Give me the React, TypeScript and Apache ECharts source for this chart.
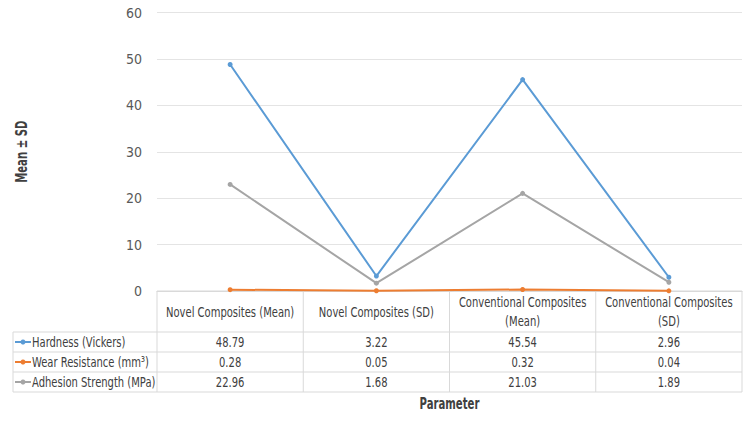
import React, { useEffect, useRef } from "react";
import * as echarts from "echarts";

const categories = [
  "Novel Composites (Mean)",
  "Novel Composites (SD)",
  "Conventional Composites (Mean)",
  "Conventional Composites (SD)",
];
const seriesNames = ["Hardness (Vickers)", "Wear Resistance (mm³)", "Adhesion Strength (MPa)"];
const hardness = [48.79, 3.22, 45.54, 2.96];
const wear = [0.28, 0.05, 0.32, 0.04];
const adhesion = [22.96, 1.68, 21.03, 1.89];
const yTicks = [0, 10, 20, 30, 40, 50, 60];
const xTitle = "Parameter";
const yTitle = "Mean ± SD";

const colors = ["#5B9BD5", "#ED7D31", "#A5A5A5"];
const FONT = "'DejaVu Sans Condensed', 'DejaVu Sans', sans-serif";
const TEXT = "#404040";
const LINE = "#d9d9d9";
const SX = 0.75;
const FS = 14.8;

export default function App() {
  const ref = useRef<HTMLDivElement>(null);
  useEffect(() => {
    if (!ref.current) return;
    const chart = echarts.init(ref.current, null, { renderer: "svg" });
    const allSeries = [hardness, wear, adhesion];
    chart.setOption({
      animation: false,
      textStyle: { fontFamily: FONT },
      grid: { left: 157, right: 8, top: 12.5, bottom: 131, containLabel: false },
      xAxis: {
        type: "category",
        data: categories,
        boundaryGap: true,
        axisLine: { show: true, lineStyle: { color: LINE, width: 1 } },
        axisTick: { show: false },
        axisLabel: { show: false },
      },
      yAxis: {
        type: "value",
        min: yTicks[0],
        max: yTicks[yTicks.length - 1],
        interval: 10,
        axisLine: { show: false },
        axisTick: { show: false },
        axisLabel: { margin: 15, fontSize: 14, color: "#595959", fontFamily: FONT },
        splitLine: { lineStyle: { color: "#e4e4e4", width: 1 } },
      },
      series: allSeries.map((d, i) => ({
        type: "line",
        name: seriesNames[i],
        data: d,
        symbol: "circle",
        symbolSize: 5,
        showSymbol: true,
        lineStyle: { color: colors[i], width: 2 },
        itemStyle: { color: colors[i] },
        z: 3,
      })),
    });

    // Data table built from the axis scale positions
    const centers = categories.map((_, i) => chart.convertToPixel({ xAxisIndex: 0 }, i) as number);
    const step = centers.length > 1 ? centers[1] - centers[0] : 145;
    const bounds = [centers[0] - step / 2, ...centers.map((c) => c + step / 2)];
    const yTop = chart.convertToPixel({ yAxisIndex: 0 }, 0) as number;
    const yMax = chart.convertToPixel({ yAxisIndex: 0 }, yTicks[yTicks.length - 1]) as number;
    const headerBottom = yTop + 41;
    const rowH = 20;
    const tableLeft = 13;
    const tableRight = bounds[bounds.length - 1];
    const tableBottom = headerBottom + rowH * seriesNames.length;

    const g: any[] = [];
    const ln = (x1: number, y1: number, x2: number, y2: number) =>
      g.push({ type: "line", shape: { x1, y1, x2, y2 }, style: { stroke: LINE, lineWidth: 1 }, silent: true });
    const txt = (text: string, x: number, y: number, align: string, extra: any = {}) =>
      g.push({
        type: "text",
        x,
        y,
        scaleX: SX,
        silent: true,
        z: 10,
        style: {
          text,
          fill: TEXT,
          fontSize: FS,
          fontFamily: FONT,
          align,
          verticalAlign: "middle",
          lineHeight: 19,
          ...extra,
        },
      });
    // horizontal lines
    ln(bounds[0], yTop, tableRight, yTop);
    for (let r = 0; r <= seriesNames.length; r++) {
      const y = headerBottom + r * rowH;
      ln(tableLeft, y, tableRight, y);
    }
    // vertical lines
    ln(tableLeft, headerBottom, tableLeft, tableBottom);
    bounds.forEach((x) => ln(x, yTop, x, tableBottom));

    // header row (category names)
    categories.forEach((c, i) => {
      const label = c.length > 24 ? c.replace(" (", "\n(") : c;
      txt(label, centers[i], (yTop + headerBottom) / 2, "center");
    });

    seriesNames.forEach((name, r) => {
      const cy = headerBottom + r * rowH + rowH / 2;
      g.push({ type: "line", shape: { x1: 15, y1: cy, x2: 31, y2: cy }, style: { stroke: colors[r], lineWidth: 2 }, silent: true });
      g.push({ type: "circle", shape: { cx: 23, cy, r: 2.5 }, style: { fill: colors[r] }, silent: true });
      txt(name, 32, cy, "left");
      allSeries[r].forEach((v, c) => txt(String(v), centers[c], cy, "center"));
    });

    // axis titles
    txt(xTitle, (bounds[0] + tableRight) / 2, 404, "center", { fontWeight: "bold", fontSize: 15 });
    g.push({
      type: "text",
      x: 22,
      y: (yTop + yMax) / 2,
      rotation: Math.PI / 2,
      scaleX: SX,
      silent: true,
      style: {
        text: yTitle,
        fill: TEXT,
        fontSize: 15,
        fontWeight: "bold",
        fontFamily: FONT,
        align: "center",
        verticalAlign: "middle",
      },
    });
    chart.setOption({ graphic: g });

    return () => chart.dispose();
  }, []);
  return (
    <div
      ref={ref}
      style={{ position: "fixed", left: 0, top: 0, width: 750, height: 422, background: "#fff" }}
    />
  );
}
